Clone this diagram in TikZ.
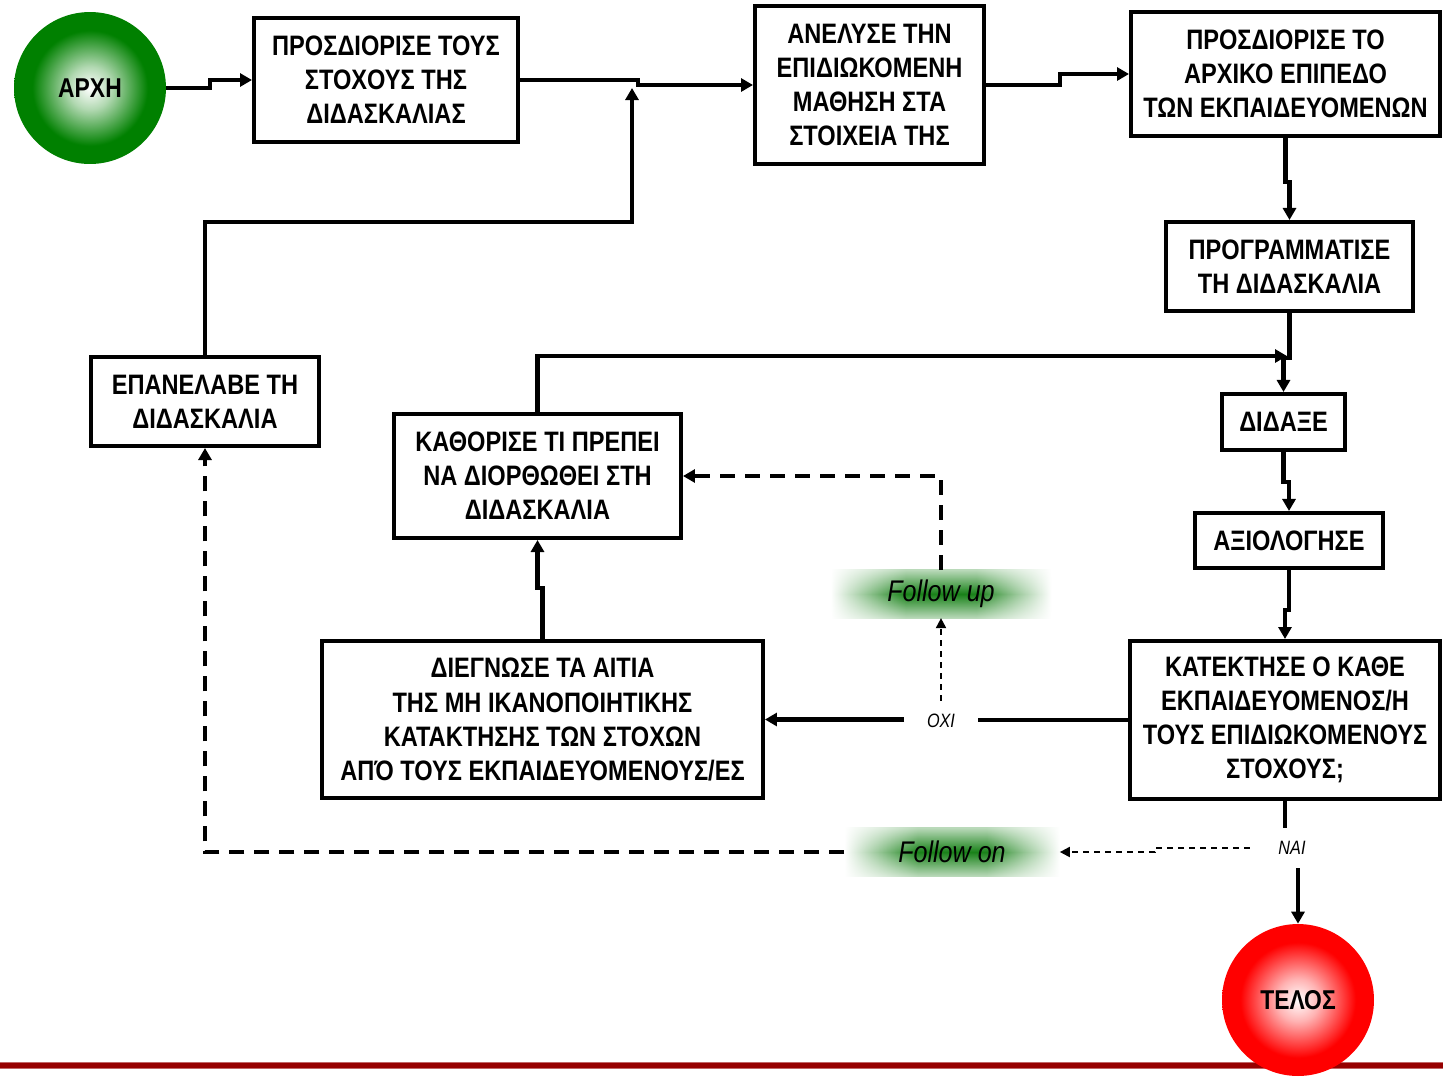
\documentclass[tikz,border=0pt]{standalone}
\usepackage{fontspec}
\setmainfont{Liberation Sans}[FakeStretch=0.84]
\usepackage{tikz}
\usetikzlibrary{positioning,arrows.meta,fadings,backgrounds}
\definecolor{ballgreen}{RGB}{0,128,0}
\definecolor{ballred}{RGB}{255,0,0}
\definecolor{glowgreen}{RGB}{25,130,25}
\definecolor{barred}{RGB}{150,0,0}
\pgfdeclareradialshading{greenball}{\pgfpoint{0bp}{0bp}}{%
color(0bp)=(white); color(7bp)=(white!70!ballgreen); color(19bp)=(ballgreen); color(50bp)=(ballgreen)}
\pgfdeclareradialshading{redball}{\pgfpoint{0bp}{0bp}}{%
color(0bp)=(white); color(7bp)=(white!70!ballred); color(19bp)=(ballred); color(50bp)=(ballred)}
\pgfdeclarehorizontalshading{greenband}{100bp}{%
color(0bp)=(white); color(25bp)=(white); color(33bp)=(glowgreen!45!white);
color(42bp)=(glowgreen); color(58bp)=(glowgreen); color(67bp)=(glowgreen!45!white); color(75bp)=(white); color(100bp)=(white)}
\tikzfading[name=band fade, top color=transparent!70, bottom color=transparent!70, middle color=transparent!0]

\begin{document}
\begin{tikzpicture}[x=0.02cm,y=-0.02cm,
    box/.style={draw, line width=2.3pt, inner sep=0pt, align=center,
      font=\bfseries\fontsize{16}{19.4}\selectfont},
    ball/.style={circle, minimum size=3.04cm, inner sep=0pt,
      font=\bfseries\fontsize{15.5}{17}\selectfont},
    glow/.style={minimum width=4.3cm, minimum height=0.95cm,
      inner sep=0pt, font=\itshape\fontsize{17}{19}\selectfont},
    answer/.style={inner sep=0pt, minimum height=0.8cm,
      font=\itshape\fontsize{11}{12}\selectfont},
    line/.style={line width=2.3pt},
    conn/.style={line, -{Triangle[length=0.24cm,width=0.26cm]}},
    dconn/.style={conn, dash pattern=on 0.3cm off 0.2cm},
    dthin/.style={line width=1.1pt, dash pattern=on 0.12cm off 0.1cm,
      -{Triangle[length=0.2cm,width=0.2cm]}}]
	%% frame of the page
	\useasboundingbox (0,0) rectangle (1443,1076);
	\fill[barred] (0,1063) rectangle (1443,1068);
	\fill[barred!60!white] (0,1062) rectangle (1443,1063);
	\fill[barred!60!white] (0,1068) rectangle (1443,1069);

	% start and end
	\node[ball, shading=greenball] (start) at (90,88) {ΑΡΧΗ};
	\node[ball, shading=redball] (stop) at (1298,1000) {ΤΕΛΟΣ};

	% the steps
	\node[box, minimum width=5.28cm, minimum height=2.48cm] (aims) at (386,80)
	  {ΠΡΟΣΔΙΟΡΙΣΕ ΤΟΥΣ\\ΣΤΟΧΟΥΣ ΤΗΣ\\ΔΙΔΑΣΚΑΛΙΑΣ};
	\node[box, minimum width=4.58cm, minimum height=3.16cm] (analyse) at (869.5,85)
	  {ΑΝΕΛΥΣΕ ΤΗΝ\\ΕΠΙΔΙΩΚΟΜΕΝΗ\\ΜΑΘΗΣΗ ΣΤΑ\\ΣΤΟΙΧΕΙΑ ΤΗΣ};
	\node[box, minimum width=6.18cm, minimum height=2.48cm] (level) at (1285.5,74)
	  {ΠΡΟΣΔΙΟΡΙΣΕ ΤΟ\\ΑΡΧΙΚΟ ΕΠΙΠΕΔΟ\\ΤΩΝ ΕΚΠΑΙΔΕΥΟΜΕΝΩΝ};
	\node[box, minimum width=4.94cm, minimum height=1.78cm] (plan) at (1289.5,266.5)
	  {ΠΡΟΓΡΑΜΜΑΤΙΣΕ\\ΤΗ ΔΙΔΑΣΚΑΛΙΑ};
	\node[box, minimum width=2.46cm, minimum height=1.12cm] (teach) at (1283.5,422)
	  {ΔΙΔΑΞΕ};
	\node[box, minimum width=3.76cm, minimum height=1.1cm] (assess) at (1289,540.5)
	  {ΑΞΙΟΛΟΓΗΣΕ};
	\node[box, minimum width=6.2cm, minimum height=3.16cm] (check) at (1285,720)
	  {ΚΑΤΕΚΤΗΣΕ Ο ΚΑΘΕ\\ΕΚΠΑΙΔΕΥΟΜΕΝΟΣ/Η\\ΤΟΥΣ ΕΠΙΔΙΩΚΟΜΕΝΟΥΣ\\ΣΤΟΧΟΥΣ;};
	\node[box, minimum width=8.82cm, minimum height=3.14cm] (diagnose) at (542.5,719.5)
	  {ΔΙΕΓΝΩΣΕ ΤΑ ΑΙΤΙΑ\\ΤΗΣ ΜΗ ΙΚΑΝΟΠΟΙΗΤΙΚΗΣ\\ΚΑΤΑΚΤΗΣΗΣ ΤΩΝ ΣΤΟΧΩΝ\\ΑΠΌ ΤΟΥΣ ΕΚΠΑΙΔΕΥΟΜΕΝΟΥΣ/ΕΣ};
	\node[box, minimum width=5.74cm, minimum height=2.48cm] (correct) at (537.5,476)
	  {ΚΑΘΟΡΙΣΕ ΤΙ ΠΡΕΠΕΙ\\ΝΑ ΔΙΟΡΘΩΘΕΙ ΣΤΗ\\ΔΙΔΑΣΚΑΛΙΑ};
	\node[box, minimum width=4.56cm, minimum height=1.78cm] (redo) at (205,401.5)
	  {ΕΠΑΝΕΛΑΒΕ ΤΗ\\ΔΙΔΑΣΚΑΛΙΑ};

	% answers and follow labels
	\node[answer, minimum width=1.46cm] (no) at (941,721) {ΟΧΙ};
	\node[answer, minimum width=1.68cm] (yes) at (1292,848) {ΝΑΙ};
	\node[glow, minimum width=4.4cm] (followup) at (941,594) {Follow up};
	\node[glow, minimum width=4.3cm] (followon) at (952,852) {Follow on};
	\begin{scope}[on background layer]
	  \foreach \lab in {followup, followon}
	    \shade[shading=greenband, path fading=band fade]
	      (\lab.south west) rectangle (\lab.north east);
	\end{scope}

	\coordinate (joinA) at (632,88);
	\coordinate (bendA) at (632,222);
	\coordinate (joinB) at (1287,356);

	% main flow
	\draw[conn] (start.east) -- ++(44,0) |- (aims);
	\draw[conn] (aims.east) -- ++(118,0) |- (analyse);
	\draw[conn] (analyse.east) -- ++(74,0) |- (level);
	\draw[conn] (level.south) -- ++(0,44) -| (plan);
	\draw[conn] (plan.south) -- ++(0,45) -| (teach);
	\draw[conn] (teach.south) -- ++(0,30) -| (assess);
	\draw[conn] (assess.south) -- ++(0,40) -| (check);

	% the no branch
	\draw[line] (check.west) -- (check.west -| no.east);
	\draw[conn] (no.west |- diagnose.east) -- (diagnose.east);
	\draw[conn] (diagnose.north) -- ++(0,-51) -| (correct);
	\draw[conn] (correct.north) |- (joinB);
	\draw[dthin] (no.north) -- (followup.south);
	\draw[dconn] (followup.north) |- (correct.east);

	% the yes branch
	\draw[line] (check.south) -- (check.south |- yes.north);
	\draw[conn] (yes.south -| stop.north) -- (stop.north);
	\draw[dthin] (yes.west) -- ++(-95,0) |- (followon.east);
	\draw[dconn] (followon.west) -| (redo.south);
	\draw[conn] (redo.north) |- (bendA) -- (joinA);
\end{tikzpicture}
\end{document}
